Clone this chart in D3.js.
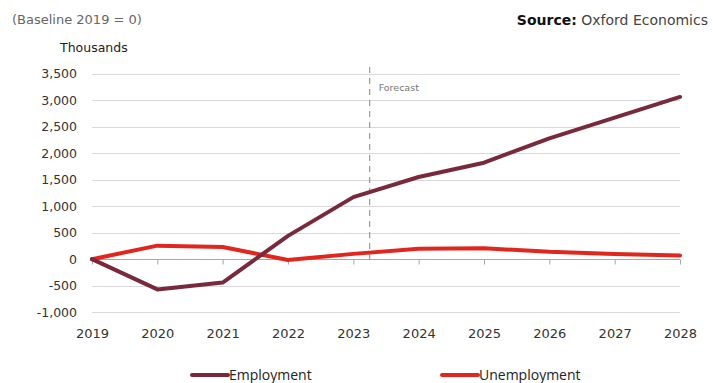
<!DOCTYPE html>
<html>
<head>
<meta charset="utf-8">
<script src="https://cdn.jsdelivr.net/npm/d3@7"></script>
<style>
  body { margin: 0; background: #fff; }
  text { font-family: "Open Sans", "DejaVu Sans", sans-serif; }
</style>
</head>
<body>
<div id="chart-area"></div>
<script>
// chart data (thousands, baseline 2019 = 0)
var years = ["2019", "2020", "2021", "2022", "2023", "2024", "2025", "2026", "2027", "2028"];
var employment = [0, -570, -440, 440, 1170, 1550, 1820, 2280, 2670, 3060];
var unemployment = [0, 255, 230, -15, 100, 195, 205, 138, 100, 68];
var yTicks = [-1000, -500, 0, 500, 1000, 1500, 2000, 2500, 3000, 3500];
var forecastAt = 2023.25;

var width = 713;
var height = 383;

var svg = d3.select("#chart-area")
    .append("svg")
        .attr("width", width)
        .attr("height", height);

var x = d3.scalePoint()
    .domain(years)
    .range([92, 680]);

var y = d3.scaleLinear()
    .domain([-1000, 3500])
    .range([312.2, 73.6]);

// gridlines
svg.append("g")
    .selectAll("line")
    .data(yTicks.filter((d) => d !== 0))
    .enter()
    .append("line")
        .attr("x1", 92)
        .attr("x2", 680)
        .attr("y1", (d) => Math.round(y(d)) + 0.5)
        .attr("y2", (d) => Math.round(y(d)) + 0.5)
        .attr("stroke", "#d9d9d9")
        .attr("stroke-width", 1);

// y axis labels (hyphen minus like the original)
var fmt = d3.format(",");
var leftAxis = d3.axisLeft(y).tickValues(yTicks).tickSize(0).tickPadding(0)
    .tickFormat((d) => fmt(d).replace("\u2212", "-"));
var yg = svg.append("g")
    .attr("transform", "translate(77, 0)")
    .call(leftAxis);
yg.select(".domain").remove();
yg.selectAll("text")
    .attr("fill", "#333")
    .style("font-family", "'DejaVu Sans', sans-serif")
    .attr("font-size", "12.5px");

// x axis at zero
var bottomAxis = d3.axisBottom(x).tickSize(5).tickPadding(64);
var xg = svg.append("g")
    .attr("transform", "translate(0, " + (Math.round(y(0)) + 0.5) + ")")
    .call(bottomAxis);
xg.select(".domain")
    .attr("d", "M92,0H680")
    .attr("stroke", "#a6a6a6");
xg.selectAll(".tick line").attr("stroke", "#a6a6a6");
xg.selectAll("text")
    .attr("fill", "#333")
    .attr("font-size", "13px")
    .style("font-family", "'DejaVu Sans', sans-serif");

// forecast marker
var fx = x("2019") + (forecastAt - 2019) * x.step();
svg.append("line")
    .attr("x1", fx).attr("x2", fx)
    .attr("y1", 67).attr("y2", 262)
    .attr("stroke", "#999")
    .attr("stroke-width", 1.2)
    .attr("stroke-dasharray", "6,5");
svg.append("text")
    .attr("x", fx + 9)
    .attr("y", 91)
    .attr("font-size", "9.5px")
    .attr("fill", "#777")
    .style("font-family", "'DejaVu Sans', sans-serif")
    .text("Forecast");

// lines
var line = d3.line()
    .x((d, i) => x(years[i]))
    .y((d) => y(d));

svg.append("path")
    .datum(unemployment)
    .attr("d", line)
    .attr("fill", "none")
    .attr("stroke", "#e0261d")
    .attr("stroke-width", 4)
    .attr("stroke-linejoin", "round")
    .attr("stroke-linecap", "round");

svg.append("path")
    .datum(employment)
    .attr("d", line)
    .attr("fill", "none")
    .attr("stroke", "#782a3c")
    .attr("stroke-width", 4)
    .attr("stroke-linejoin", "round")
    .attr("stroke-linecap", "round");

// titles
svg.append("text")
    .attr("x", 12)
    .attr("y", 24)
    .attr("font-size", "13px")
    .attr("fill", "#666")
    .style("font-family", "'DejaVu Sans', sans-serif")
    .text("(Baseline 2019 = 0)");

svg.append("text")
    .attr("x", 60)
    .attr("y", 52)
    .attr("font-size", "12.5px")
    .attr("fill", "#222")
    .style("font-family", "'DejaVu Sans', sans-serif")
    .text("Thousands");

var src = svg.append("text")
    .attr("x", 708)
    .attr("y", 25)
    .attr("text-anchor", "end")
    .attr("font-size", "14px")
    .attr("fill", "#111")
    .style("font-family", "'DejaVu Sans', sans-serif");
src.append("tspan").attr("font-weight", "bold").text("Source:");
src.append("tspan").attr("fill", "#444").text(" Oxford Economics");

// legend
var legend = [
    {name: "Employment", color: "#782a3c", x: 192},
    {name: "Unemployment", color: "#e0261d", x: 442}
];
var lg = svg.selectAll(".legend")
    .data(legend)
    .enter()
    .append("g")
        .attr("class", "legend")
        .attr("transform", (d) => "translate(" + d.x + ", 375)");
lg.append("line")
    .attr("x1", 0).attr("x2", 36)
    .attr("stroke", (d) => d.color)
    .attr("stroke-width", 4)
    .attr("stroke-linecap", "round");
lg.append("text")
    .attr("x", 37)
    .attr("y", 5)
    .attr("font-size", "14px")
    .attr("fill", "#222")
    .text((d) => d.name);
</script>
</body>
</html>
